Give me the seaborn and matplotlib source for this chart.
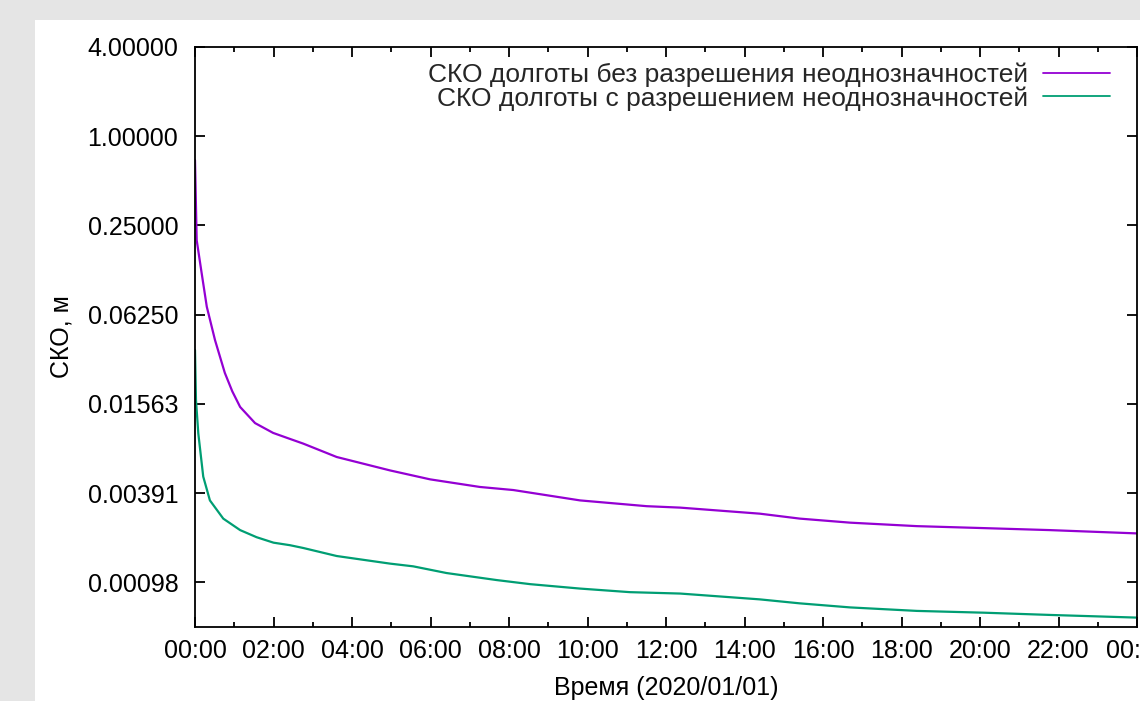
import numpy as np
import pandas as pd
import matplotlib
matplotlib.use("Agg")
import matplotlib.pyplot as plt
import seaborn as sns
from matplotlib.ticker import FixedLocator, FixedFormatter, NullLocator
from matplotlib.patches import Rectangle

# ---- data (hours since 2020/01/01 00:00, RMS in metres) ----
hours_float = [0, 0.025, 0.043, 0.17, 0.30, 0.51, 0.76, 0.95, 1.15, 1.53, 1.99, 2.37,
               2.76, 3.61, 4.97, 5.99, 7.26, 8.11, 9.81, 11.51, 12.36, 14.39, 15.41,
               16.69, 18.39, 20.08, 21.78, 24.0]
rms_float = [0.69, 0.334, 0.199, 0.119, 0.0708, 0.0421, 0.0253, 0.0190, 0.0149,
             0.01160, 0.00996, 0.00917, 0.00843, 0.00685, 0.00556, 0.00484, 0.00430,
             0.00410, 0.00349, 0.00319, 0.00312, 0.00284, 0.00263, 0.00247, 0.00234,
             0.00227, 0.00220, 0.00209]

hours_fixed = [0, 0.025, 0.084, 0.21, 0.38, 0.72, 1.15, 1.57, 2.0, 2.42, 2.76, 3.61,
               4.97, 5.56, 6.41, 7.69, 8.54, 9.81, 11.08, 12.36, 14.39, 15.41, 16.69,
               18.39, 20.08, 21.78, 24.0]
rms_fixed = [0.0361, 0.01663, 0.00989, 0.00505, 0.00349, 0.00263, 0.00220, 0.00197,
             0.00181, 0.00174, 0.001666, 0.001471, 0.001307, 0.001253, 0.001129,
             0.001012, 0.000950, 0.000887, 0.000839, 0.000821, 0.000750, 0.000705,
             0.000662, 0.000627, 0.000610, 0.000589, 0.000565]

label_float = "СКО долготы без разрешения неоднозначностей"
label_fixed = "СКО долготы с разрешением неоднозначностей"

x_major = [0, 2, 4, 6, 8, 10, 12, 14, 16, 18, 20, 22, 24]
x_labels = ["00:00", "02:00", "04:00", "06:00", "08:00", "10:00", "12:00",
            "14:00", "16:00", "18:00", "20:00", "22:00", "00:00"]
x_minor = [1, 3, 5, 7, 9, 11, 13, 15, 17, 19, 21, 23]
y_ticks = [4.0, 1.0, 0.25, 0.0625, 0.015625, 0.00390625, 0.0009765625]
y_labels = ["4.00000", "1.00000", "0.25000", "0.06250", "0.01563", "0.00391", "0.00098"]

color_float = "#9400d3"
color_fixed = "#009e73"

# ---- style ----
sns.set_style("ticks")
plt.rcParams["font.family"] = ["Liberation Sans", "DejaVu Sans"]
plt.rcParams["font.size"] = 18

fig = plt.figure(figsize=(11.4, 7.01), dpi=100)
fig.patch.set_facecolor("#e5e5e5")
fig.add_artist(Rectangle((35 / 1140, 0), 1 - 35 / 1140, (701 - 20) / 701,
                         transform=fig.transFigure, facecolor="white",
                         edgecolor="none", zorder=0))

ax = fig.add_axes([195 / 1140, 1 - 627 / 701, (1137 - 195) / 1140, (627 - 47) / 701])
ax.set_facecolor("white")

df_float = pd.DataFrame({"t": hours_float, "rms": rms_float})
df_fixed = pd.DataFrame({"t": hours_fixed, "rms": rms_fixed})

sns.lineplot(data=df_float, x="t", y="rms", ax=ax, color=color_float, lw=1.6,
             label=label_float)
sns.lineplot(data=df_fixed, x="t", y="rms", ax=ax, color=color_fixed, lw=1.6,
             label=label_fixed)

ax.set_yscale("log", base=2)
ax.set_ylim(2 ** -11, 4)
ax.set_xlim(0, 24)

ax.yaxis.set_major_locator(FixedLocator(y_ticks))
ax.yaxis.set_major_formatter(FixedFormatter(y_labels))
ax.yaxis.set_minor_locator(NullLocator())
ax.set_xticks(x_major)
ax.set_xticklabels(x_labels)
ax.xaxis.set_minor_locator(FixedLocator(x_minor))

ax.tick_params(which="both", direction="in", top=True, right=True, color="black",
               width=1.3, labelsize=18, labelcolor="black")
ax.tick_params(which="major", length=7)
ax.tick_params(which="minor", length=3.5)
ax.tick_params(axis="x", which="major", pad=9)
ax.tick_params(axis="y", which="major", pad=12)

for s in ax.spines.values():
    s.set_visible(True)
    s.set_color("black")
    s.set_linewidth(1.3)

ax.set_xlabel("Время (2020/01/01)", fontsize=18, labelpad=9, color="black")
ax.set_ylabel("СКО, м", fontsize=18, labelpad=10, color="black")

leg = ax.legend(loc="upper right", frameon=False, markerfirst=False,
                handlelength=2.54, handletextpad=0.57, labelspacing=-0.04,
                borderaxespad=0.5, fontsize=19, bbox_to_anchor=(0.9966, 1.0138))
for col in leg._legend_handle_box.get_children():
    col.align = "right"
for line in leg.get_lines():
    line.set_linewidth(1.3)

fig.savefig("out.png", dpi=100, facecolor=fig.get_facecolor())
